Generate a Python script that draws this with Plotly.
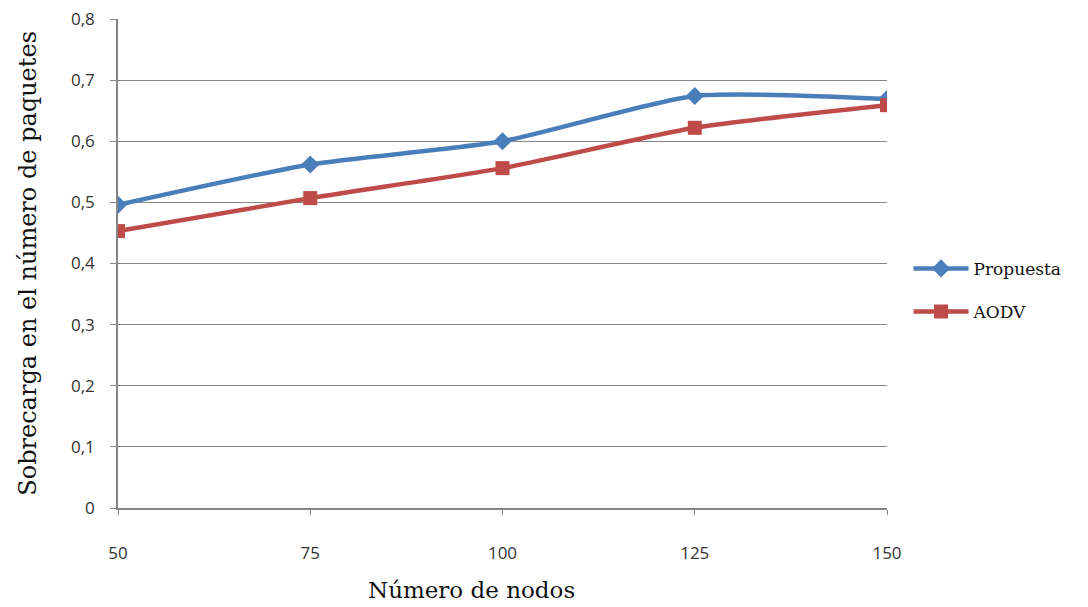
import plotly.graph_objects as go

nodos = [50, 75, 100, 125, 150]
propuesta = [0.496, 0.562, 0.600, 0.674, 0.669]
aodv = [0.453, 0.507, 0.556, 0.622, 0.659]
y_ticks = [0, 0.1, 0.2, 0.3, 0.4, 0.5, 0.6, 0.7, 0.8]
y_labels = ["0", "0,1", "0,2", "0,3", "0,4", "0,5", "0,6", "0,7", "0,8"]

fig = go.Figure()
fig.add_trace(go.Scatter(
    x=nodos, y=propuesta, name="Propuesta", mode="lines+markers", legendgroup="a",
    line=dict(color="#4a7ebb", width=4.5, shape="spline", smoothing=0.6),
    marker=dict(symbol="diamond", size=14, color="#4a7ebb"),
))
fig.add_trace(go.Scatter(
    x=nodos, y=aodv, name="AODV", mode="lines+markers", legendgroup="b",
    line=dict(color="#be4b48", width=4.5, shape="spline", smoothing=0.6),
    marker=dict(symbol="square", size=14, color="#be4b48"),
))

axis_col = "#868686"
fig.update_layout(
    width=1088, height=607,
    margin=dict(l=118, r=201, t=19, b=99),
    paper_bgcolor="white", plot_bgcolor="white",
    separators=",.",
    showlegend=True,
    legend=dict(x=1.028, y=0.445, xanchor="left", yanchor="middle",
                font=dict(family="DejaVu Serif", size=17, color="#111"),
                traceorder="grouped", tracegroupgap=18, itemwidth=55),
    xaxis=dict(range=[50, 150], tickvals=nodos, ticktext=[str(v) for v in nodos],
               showgrid=False, showline=True, linecolor=axis_col, linewidth=1.5,
               ticks="outside", ticklen=5, tickcolor=axis_col,
               ticklabelstandoff=24, automargin=False,
               tickfont=dict(family="Open Sans", size=17, color="#333"),
               zeroline=False),
    yaxis=dict(range=[0, 0.8], tickvals=y_ticks, ticktext=y_labels,
               showgrid=True, gridcolor=axis_col, gridwidth=1.3,
               showline=True, linecolor=axis_col, linewidth=1.5,
               ticks="outside", ticklen=6, tickcolor=axis_col,
               ticklabelstandoff=12, automargin=False,
               tickfont=dict(family="Open Sans", size=17, color="#333"),
               zeroline=False),
    annotations=[
        dict(text="Número de nodos", x=0.46, y=-0.168, xref="paper", yref="paper",
             xanchor="center", yanchor="middle", showarrow=False,
             font=dict(family="DejaVu Serif", size=23, color="#111")),
        dict(text="Sobrecarga en el número de paquetes", x=-0.118, y=0.5,
             xref="paper", yref="paper", textangle=-90,
             xanchor="center", yanchor="middle", showarrow=False,
             font=dict(family="DejaVu Serif", size=24, color="#111")),
    ],
)

fig.write_html("out.html", config={"displayModeBar": False},
               post_script="document.body.style.margin='0';")
